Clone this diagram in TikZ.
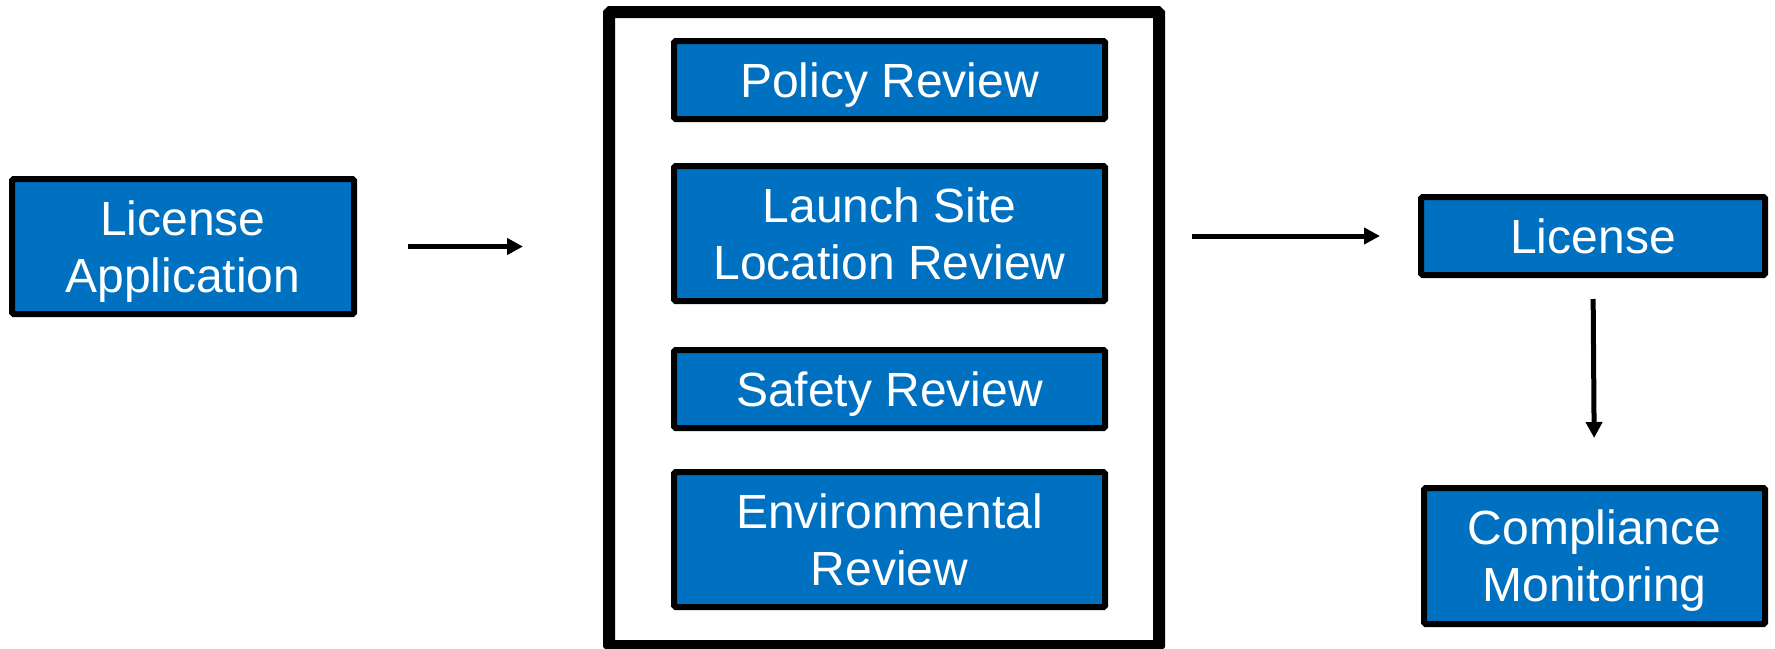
\documentclass[tikz,border=0pt]{standalone}
\usepackage{fontspec}
\setmainfont{Liberation Sans}
\usetikzlibrary{arrows.meta}
\definecolor{boxblue}{HTML}{0070C0}

\begin{document}
\begin{tikzpicture}[x=1pt,y=-1pt]
\tikzstyle{every node}+=[inner sep=0pt]
\tikzstyle{stage}=[draw=black,line width=6pt,fill=boxblue,text=white,rounded corners=1.5pt,font=\fontsize{48}{57}\selectfont,align=center,text depth=0pt]
\tikzstyle{flow}=[line width=5pt,-{Triangle[length=16pt,width=16pt]}]
\useasboundingbox (0,0) rectangle (1775,648);
% review block
\node [draw=black,line width=12pt,minimum width=550pt,minimum height=634pt,rounded corners=1.5pt] (rev) at (884,329) {};
\node [stage,minimum width=431pt,minimum height=78pt] (policy) at (889.5,80) {Policy Review};
\node [stage,minimum width=431pt,minimum height=135pt] (site) at (889.5,233.5) {Launch Site\\Location Review};
\node [stage,minimum width=431pt,minimum height=78pt] (safety) at (889.5,389) {Safety Review};
\node [stage,minimum width=431pt,minimum height=135pt] (env) at (889.5,539.5) {Environmental\\Review};
% outside
\node [stage,minimum width=342pt,minimum height=135pt] (app) at (183,246.5) {License\\Application};
\node [stage,minimum width=344pt,minimum height=78pt] (lic) at (1593,236) {License};
\node [stage,minimum width=341pt,minimum height=136pt] (comp) at (1594.5,556) {Compliance\\Monitoring};
% arrows
\draw [flow,shorten <=51pt,shorten >=80pt] (app.east) -- (app.east -| rev.west);
\draw [flow,shorten <=27pt,shorten >=38pt] (rev.east |- lic.west) -- (lic.west);
\draw [flow,shorten <=21pt,shorten >=47pt] (lic.south) -- (comp.north);
\end{tikzpicture}
\end{document}
